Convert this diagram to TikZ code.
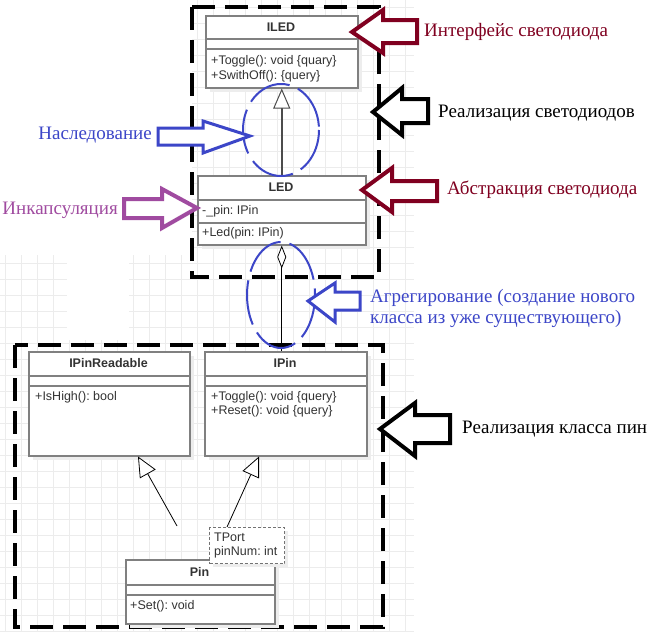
\documentclass[tikz,border=0pt]{standalone}
\usepackage{fontspec}
\setmainfont{Liberation Serif}
\newfontfamily\umlfont{Liberation Sans}
\usetikzlibrary{arrows.meta,calc}
\frenchspacing
\definecolor{darkred}{RGB}{128,0,32}
\definecolor{inhblue}{RGB}{60,70,200}
\definecolor{encpurple}{RGB}{160,75,160}
\definecolor{umlgray}{RGB}{128,128,128}
\definecolor{umltext}{RGB}{51,51,51}
\definecolor{gridgray}{RGB}{236,236,236}
\tikzset{
  classbox/.style={draw=umlgray,line width=1.5pt,fill=white,anchor=north west,inner sep=0pt},
  shadowbox/.style={fill=black!7,draw=none},
  divider/.style={draw=umlgray,line width=1.5pt},
  umltxt/.style={font=\umlfont\fontsize{12.5}{15}\selectfont,text=umltext,inner sep=0pt},
  umlname/.style={font=\umlfont\bfseries\fontsize{12.5}{15}\selectfont,text=umltext,inner sep=0pt},
  frame/.style={line width=4.5pt,dash pattern=on 23pt off 10pt},
  callout/.style={draw=#1,line width=4pt,line join=miter,fill=white},
  note/.style={font=\rmfamily\fontsize{19}{21}\selectfont,inner sep=0pt},
  ring/.style={inhblue,line width=2pt,dash pattern=on 45pt off 9pt}
}
\begin{document}
\begin{tikzpicture}[x=1pt,y=-1pt]
\useasboundingbox(0,0)rectangle(653,632);
\fill[white](0,0)rectangle(653,632);
\begin{scope} %grid
\clip(0,255)rectangle(414,632) (192,0)rectangle(414,255);
\foreach \gx in {5,21,...,414} \draw[gridgray,line width=0.8pt](\gx,0)--(\gx,632);
\foreach \gy in {7,23,...,632} \draw[gridgray,line width=0.8pt](0,\gy)--(414,\gy);
\end{scope}
\fill[white](67,250)rectangle(129,340); %blank patch

%frames
\draw[frame](192,7)rectangle(379,277); %LED part
\draw[frame](15,345)rectangle(383,627); %pin part

%ILED
\fill[shadowbox](210,20)rectangle(362,92);
\node[classbox,minimum width=152pt,minimum height=72pt](iled) at (205,15){};
\draw[divider](205,39)--(357,39) (205,49)--(357,49);
\node[umlname](iledname) at (281,27){ILED};
\node[umltxt,anchor=west](iledtoggle) at (211,61){+Toggle(): void \{quary\}};
\node[umltxt,anchor=west](iledoff) at (211,76){+SwithOff(): \{query\}};

%LED
\fill[shadowbox](202,180)rectangle(370,249);
\node[classbox,minimum width=168pt,minimum height=69pt](led) at (197,175){};
\draw[divider](197,200)--(365,200) (197,223)--(365,223);
\node[umlname](ledname) at (281,187){LED};
\node[umltxt,anchor=west](ledpin) at (202,211){-\_pin: IPin};
\node[umltxt,anchor=west](ledctor) at (202,233){+Led(pin: IPin)};

%IPinReadable
\fill[shadowbox](33,356)rectangle(194,460);
\node[classbox,minimum width=161pt,minimum height=104pt](pinr) at (28,351){};
\draw[divider](28,376)--(189,376) (28,386)--(189,386);
\node[umlname](pinrname) at (108.5,363){IPinReadable};
\node[umltxt,anchor=west](pinrhigh) at (35,397){+IsHigh(): bool};

%IPin
\fill[shadowbox](209,356)rectangle(371,460);
\node[classbox,minimum width=162pt,minimum height=104pt](ipin) at (204,351){};
\draw[divider](204,376)--(366,376) (204,386)--(366,386);
\node[umlname](ipinname) at (285,363){IPin};
\node[umltxt,anchor=west](ipintoggle) at (211,397){+Toggle(): void \{query\}};
\node[umltxt,anchor=west](ipinreset) at (211,411){+Reset(): void \{query\}};

%Pin
\fill[shadowbox](130,564)rectangle(279,628);
\node[classbox,minimum width=149pt,minimum height=64pt](pin) at (125,559){};
\draw[divider](125,585)--(274,585) (125,595)--(274,595);
\node[umlname](pinname) at (199.5,572){Pin};
\node[umltxt,anchor=west](pinset) at (130,606){+Set(): void};

%template parameters
\fill[shadowbox](213,531)rectangle(288,567);
\node[classbox,draw=umlgray!90!black,line width=1pt,dash pattern=on 3pt off 2pt,minimum width=75pt,minimum height=36pt](tport) at (209,527){};
\node[umltxt,anchor=west](tportname) at (214,537){TPort};
\node[umltxt,anchor=west](tportnum) at (214,552){pinNum: int};

%connectors
\draw[black!70,line width=1.5pt,-{Triangle[open,fill=white,length=20pt,width=17pt,line width=1pt]}](led.north)--(iled.south);
\draw[black,line width=0.8pt,{Diamond[open,fill=white,length=23pt,width=9pt]}-](led.south)--(led.south|-ipin.north);
\coordinate(pinfrom) at (177,526);
\coordinate(tportfrom) at (227,527);
\draw[black,line width=0.8pt,-{Triangle[open,fill=white,length=20pt,width=18pt]}](pinfrom)--([xshift=110pt]pinr.south west);
\draw[black,line width=0.8pt,-{Triangle[open,fill=white,length=20pt,width=18pt]}](tportfrom)--([xshift=55pt]ipin.south west);

%rings
\draw[ring](281,130)ellipse[x radius=38,y radius=46];
\draw[ring](281,295)ellipse[x radius=34,y radius=53];

%callout arrows
\draw[callout=darkred](352,32)--(383,10)--(383,20)--(417,20)--(417,43)--(383,43)--(383,53)--cycle;
\draw[callout=black](373,112)--(402,88)--(402,99)--(428,99)--(428,123)--(402,123)--(402,135)--cycle;
\draw[callout=darkred](362,190)--(392,168)--(392,181)--(437,181)--(437,201)--(392,201)--(392,212)--cycle;
\draw[callout=black](380,429)--(415,403)--(415,415)--(450,415)--(450,443)--(415,443)--(415,456)--cycle;
\draw[callout=inhblue,line width=3pt](308,301)--(335,283)--(335,292)--(360,292)--(360,310)--(335,310)--(335,322)--cycle;
\draw[callout=inhblue,line width=3pt](250,136)--(203,121)--(203,128)--(158,128)--(158,145)--(203,145)--(203,153)--cycle;
\draw[callout=encpurple](197,208)--(162,189)--(162,199)--(124,199)--(124,218)--(162,218)--(162,228)--cycle;

%labels
\node[note,anchor=west,text=darkred](ifacenote) at (424,32){Интерфейс светодиода};
\node[note,anchor=west](realnote) at (438,113){Реализация светодиодов};
\node[note,anchor=west,text=darkred](absnote) at (447,190){Абстракция светодиода};
\node[note,anchor=east,text=inhblue](inhnote) at (152,135){Наследование};
\node[note,anchor=east,text=encpurple](encnote) at (118,210){Инкапсуляция};
\node[note,anchor=west,align=left,text=inhblue](aggnote) at (370,308.5){Агрегирование (создание нового\\класса из уже существующего)};
\node[note,anchor=west](pinnote) at (462,429){Реализация класса пин};
\end{tikzpicture}
\end{document}
